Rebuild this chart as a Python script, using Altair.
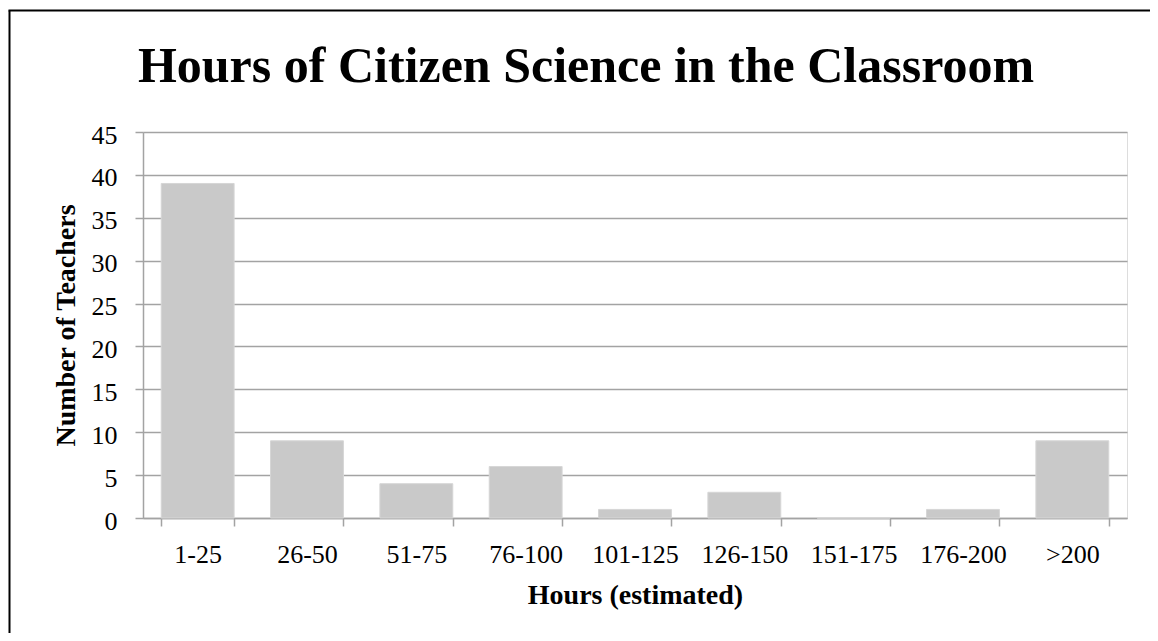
import altair as alt
import pandas as pd

categories = ["1-25", "26-50", "51-75", "76-100", "101-125", "126-150", "151-175", "176-200", ">200"]
teachers = [39, 9, 4, 6, 1, 3, 0, 1, 9]
y_ticks = [0, 5, 10, 15, 20, 25, 30, 35, 40, 45]

df = pd.DataFrame({"hours": categories, "teachers": teachers})

FONT = "Liberation Serif"
GRID = "#a3a3a3"

bars = alt.Chart(df).mark_bar(color="#c9c9c9", stroke="#d6d6d6", strokeWidth=1).encode(
    x=alt.X(
        "hours:N",
        sort=categories,
        scale=alt.Scale(paddingInner=0.3333, paddingOuter=0.1667),
        axis=alt.Axis(
            title="Hours (estimated)",
            labelAngle=0,
            labelFont=FONT,
            labelFontSize=26,
            labelColor="#000000",
            labelPadding=15,
            tickBand="extent",
            tickSize=8,
            tickColor=GRID,
            tickWidth=1.5,
            domainColor=GRID,
            domainWidth=1.5,
            titleFont=FONT,
            titleFontSize=28,
            titleFontWeight="bold",
            titleColor="#000000",
            titleBaseline="alphabetic",
            titleY=85,
        ),
    ),
    y=alt.Y(
        "teachers:Q",
        scale=alt.Scale(domain=[0, 45], nice=False),
        axis=alt.Axis(
            title="Number of Teachers",
            values=y_ticks,
            labelFont=FONT,
            labelFontSize=26,
            labelColor="#000000",
            labelPadding=18,
            labelOffset=3,
            tickSize=8,
            tickColor=GRID,
            tickWidth=1.5,
            domainColor=GRID,
            domainWidth=1.5,
            gridColor=GRID,
            gridWidth=1.5,
            titleFont=FONT,
            titleFontSize=28,
            titleFontWeight="bold",
            titleColor="#000000",
            titleAngle=-90,
            titleBaseline="alphabetic",
            titleX=-69,
            titleY=193,
        ),
    ),
)

frame_df = pd.DataFrame({"f": [0]})
frame_left = alt.Chart(frame_df).mark_rule(color="#000000", strokeWidth=2).encode(
    x=alt.value(-133.5), y=alt.value(-121.5), y2=alt.value(520)
)
frame_top = alt.Chart(frame_df).mark_rule(color="#000000", strokeWidth=2).encode(
    x=alt.value(-134.5), x2=alt.value(1007), y=alt.value(-121.5)
)

chart = alt.layer(bars, frame_left, frame_top).properties(
    width=984,
    height=386,
    title=alt.Title(
        "Hours of Citizen Science in the Classroom",
        font=FONT,
        fontSize=50,
        fontWeight="bold",
        color="#000000",
        anchor="middle",
        dx=-49,
        baseline="alphabetic",
        offset=0,
        dy=122,
    ),
    autosize=alt.AutoSizeParams(type="none"),
    padding={"left": 135, "top": 124, "right": 23, "bottom": 115},
).configure_view(stroke=None).configure(background="#ffffff")

chart.save("out.html", embed_options={"renderer": "svg", "actions": False})
